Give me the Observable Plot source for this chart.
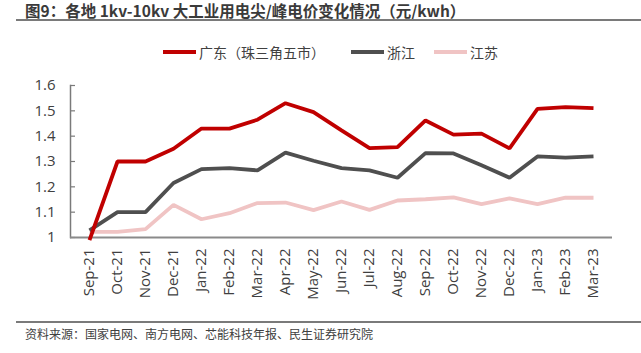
<!DOCTYPE html>
<html>
<head>
<meta charset="utf-8">
<script src="https://cdn.jsdelivr.net/npm/d3@7"></script>
<script src="https://cdn.jsdelivr.net/npm/@observablehq/plot@0.6"></script>
<style>
  html, body { margin: 0; padding: 0; background: #fff; }
  body { width: 641px; height: 353px; position: relative; overflow: hidden;
         font-family: "Open Sans", "Noto Sans CJK SC", sans-serif; color: #404040; }
  #title { position: absolute; left: 25px; top: 2px; font-size: 15.5px; font-weight: bold;
           color: #3a3a3a; white-space: nowrap; line-height: 16px;
           font-family: "Noto Sans CJK SC", "Open Sans", sans-serif; }
  #tline { position: absolute; left: 16px; right: 0; top: 19px; height: 2px; background: #7a7a7a; }
  #legend { position: absolute; left: 163px; top: 42px; display: flex; align-items: center;
            font-size: 14px; color: #404040; white-space: nowrap;
            font-family: "Noto Sans CJK SC", sans-serif; }
  .item { display: flex; align-items: center; }
  .sw { width: 33px; height: 4px; margin-right: 3px; }
  #chart { position: absolute; left: 0; top: 70px; }
  #bline { position: absolute; left: 16px; right: 0; top: 321px; height: 1.5px; background: #7a7a7a; }
  #source { position: absolute; left: 25px; top: 325px; font-size: 12px; color: #404040;
            white-space: nowrap; font-family: "Noto Sans CJK SC", sans-serif; }
</style>
</head>
<body>
<div id="title">图9：各地 1kv-10kv 大工业用电尖/峰电价变化情况（元/kwh）</div>
<div id="tline"></div>
<div id="legend"></div>
<div id="chart"></div>
<div id="bline"></div>
<div id="source">资料来源：国家电网、南方电网、芯能科技年报、民生证券研究院</div>
<script>
const months = ["Sep-21","Oct-21","Nov-21","Dec-21","Jan-22","Feb-22","Mar-22","Apr-22","May-22","Jun-22","Jul-22","Aug-22","Sep-22","Oct-22","Nov-22","Dec-22","Jan-23","Feb-23","Mar-23"];
const guangdong = [0.99, 1.30, 1.30, 1.35, 1.43, 1.43, 1.465, 1.53, 1.495, 1.423, 1.353, 1.357, 1.462, 1.406, 1.41, 1.352, 1.508, 1.515, 1.511];
const zhejiang  = [1.028, 1.10, 1.10, 1.215, 1.27, 1.274, 1.265, 1.335, 1.303, 1.274, 1.265, 1.236, 1.333, 1.332, 1.285, 1.236, 1.32, 1.315, 1.32];
const jiangsu   = [1.022, 1.022, 1.033, 1.129, 1.072, 1.096, 1.136, 1.138, 1.108, 1.142, 1.109, 1.146, 1.151, 1.158, 1.132, 1.154, 1.132, 1.157, 1.157];
const seriesNames = ["广东（珠三角五市）", "浙江", "江苏"];
const seriesColors = ["#C00000", "#4F4F4F", "#F0C4C4"];
const yTicks = [1, 1.1, 1.2, 1.3, 1.4, 1.5, 1.6];

const seriesValues = [guangdong, zhejiang, jiangsu];
const rows = [];
seriesNames.forEach((name, s) => {
  months.forEach((m, i) => rows.push({series: name, month: m, value: seriesValues[s][i]}));
});

// legend
const legend = document.getElementById("legend");
const gaps = [26, 19, 0];
seriesNames.forEach((name, i) => {
  const it = document.createElement("div");
  it.className = "item";
  it.style.marginRight = gaps[i] + "px";
  const sw = document.createElement("div");
  sw.className = "sw";
  sw.style.background = seriesColors[i];
  const t = document.createElement("span");
  t.textContent = name;
  it.appendChild(sw); it.appendChild(t);
  legend.appendChild(it);
});

const fmt = d => String(+d.toFixed(1));
const drawOrder = [2, 1, 0];
const W = 641, ML = 70, MR = 29;

const plot = Plot.plot({
  width: W,
  height: 245,
  marginLeft: ML,
  marginRight: MR,
  marginTop: 15,
  marginBottom: 78,
  style: {fontFamily: "'Open Sans', 'Noto Sans CJK SC', sans-serif", color: "#404040",
          background: "transparent", fontSize: "15px"},
  x: {type: "point", domain: months, padding: 0.5, tickRotate: -90, tickSize: 0, tickPadding: 11, label: null},
  y: {domain: [1, 1.6], ticks: yTicks, tickFormat: fmt, tickSize: 0, tickPadding: 15, label: null},
  marks: [
    Plot.tickY(yTicks, {y: d => d, stroke: "#7a7a7a", strokeWidth: 1.2, insetRight: W - ML - MR - 5}),
    Plot.frame({anchor: "left", stroke: "#7a7a7a", strokeWidth: 1.5}),
    Plot.ruleY([1], {stroke: "#8a8a8a", strokeWidth: 2}),
    ...drawOrder.map(s => Plot.line(rows.filter(r => r.series === seriesNames[s]), {
      x: "month", y: "value", stroke: seriesColors[s], strokeWidth: 3.8,
      strokeLinejoin: "miter", strokeLinecap: "butt"
    }))
  ]
});
document.getElementById("chart").appendChild(plot);
</script>
</body>
</html>
